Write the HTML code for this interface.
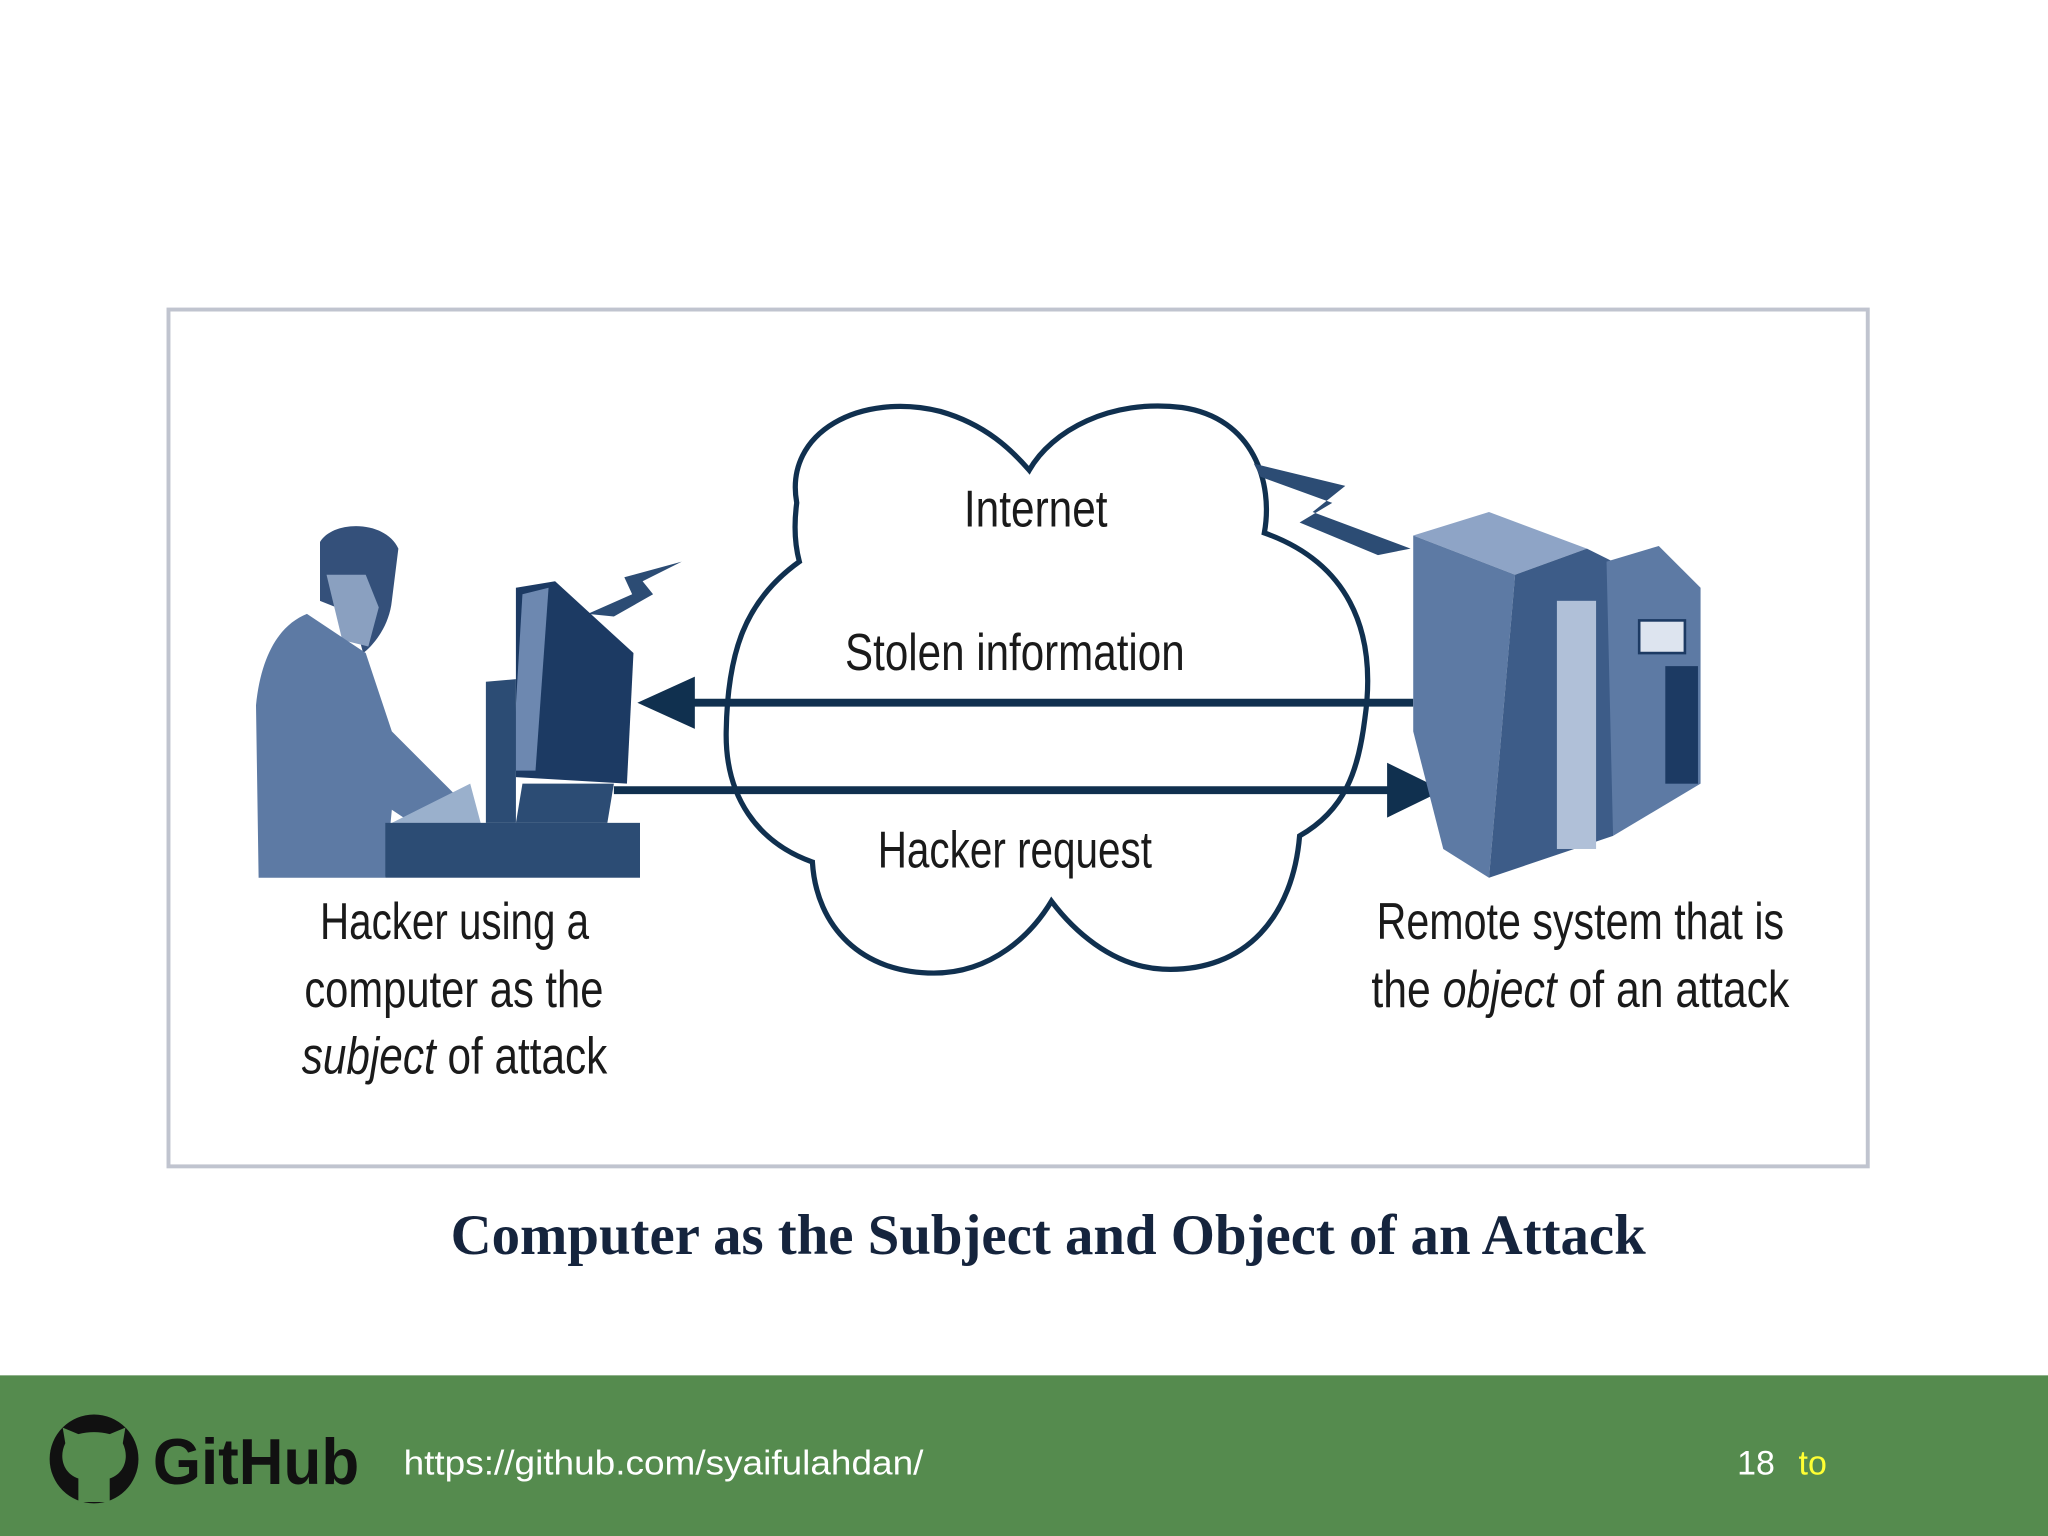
<!DOCTYPE html>
<html><head><meta charset="utf-8"><style>
html,body{margin:0;padding:0;background:#fff;}
svg{display:block}
</style></head><body>
<svg width="2048" height="1536" viewBox="0 0 1568 1176" preserveAspectRatio="none" xmlns="http://www.w3.org/2000/svg">
<rect x="0" y="0" width="1568" height="1176" fill="#fff"/>
<rect x="129" y="237" width="1301" height="656" fill="#fff" stroke="#c0c4cf" stroke-width="3"/>
<!-- cloud -->
<path d="M610,385 C600,330 660,300 720,315 C755,325 775,345 788,360 C805,330 850,305 905,312 C960,320 975,370 968,408 C1030,430 1055,480 1045,550 C1040,590 1030,620 995,640 C990,700 955,745 890,742 C850,740 820,710 805,690 C790,715 760,745 715,745 C660,745 625,710 622,660 C580,645 555,610 556,560 C557,500 570,460 612,430 C608,415 608,400 610,385 Z" fill="#fff" stroke="#10304f" stroke-width="4"/>
<!-- arrows -->
<line x1="520" y1="538" x2="1082" y2="538" stroke="#10304f" stroke-width="6"/>
<polygon points="488,538 532,518 532,558" fill="#10304f"/>
<line x1="470" y1="605" x2="1070" y2="605" stroke="#10304f" stroke-width="6"/>
<polygon points="1105,605 1062,584 1062,626" fill="#10304f"/>
<!-- lightning -->
<polygon points="960,355 1030,372 1005,392 1080,420 1055,425 995,400 1020,385 965,365" fill="#2c4c74"/>
<polygon points="522,430 478,442 484,455 450,470 470,472 500,455 492,445" fill="#2c4c74"/>
<!-- hacker -->
<g fill="#5d7aa4">
<path d="M245,415 C255,398 295,398 305,420 L300,460 C298,480 285,495 278,500 L270,470 L245,460 Z" fill="#34507a"/>
<path d="M250,440 L280,440 L290,465 L282,495 L262,490 Z" fill="#8aa0c0"/>
<path d="M235,470 L280,500 L300,560 L340,600 L360,620 L330,640 L300,620 L295,672 L198,672 L196,540 C200,500 215,478 235,470 Z"/>
<path d="M300,630 L360,600 L368,630 L320,650 Z" fill="#9ab0cc"/>
<path d="M395,450 L425,445 L485,500 L480,600 L395,595 Z" fill="#1c3a63"/>
<path d="M400,455 L420,450 L410,590 L392,590 Z" fill="#6d88b0"/>
<path d="M372,522 L395,520 L395,630 L372,630 Z" fill="#2c4c74"/>
<path d="M400,600 L470,600 L465,630 L395,630 Z" fill="#2c4c74"/>
<rect x="295" y="630" width="195" height="42" fill="#2c4c74"/>
</g>
<!-- server -->
<g>
<polygon points="1082,410 1140,392 1215,420 1160,440" fill="#8ea4c6"/>
<polygon points="1082,410 1160,440 1140,672 1105,650 1082,560" fill="#5d7aa4"/>
<polygon points="1160,440 1215,420 1235,430 1235,640 1140,672" fill="#3d5c88"/>
<rect x="1192" y="460" width="30" height="190" fill="#b0c0d8"/>
<polygon points="1230,430 1270,418 1302,450 1302,600 1235,640" fill="#5d7aa4"/>
<rect x="1255" y="475" width="35" height="25" fill="#dde4ef" stroke="#1c3a63" stroke-width="2"/>
<rect x="1275" y="510" width="25" height="90" fill="#1c3a63"/>
</g>
<!-- labels -->
<g font-family="'Liberation Sans Narrow','Liberation Sans',sans-serif" font-size="40" fill="#1a1a1a" text-anchor="start">
<text x="738" y="403" textLength="110" lengthAdjust="spacingAndGlyphs">Internet</text>
<text x="647" y="513" textLength="260" lengthAdjust="spacingAndGlyphs">Stolen information</text>
<text x="672" y="664" textLength="210" lengthAdjust="spacingAndGlyphs">Hacker request</text>
<text x="245" y="719" textLength="206" lengthAdjust="spacingAndGlyphs">Hacker using a</text>
<text x="233" y="771" textLength="229" lengthAdjust="spacingAndGlyphs">computer as the</text>
<text x="231" y="822" textLength="234" lengthAdjust="spacingAndGlyphs"><tspan font-style="italic">subject</tspan> of attack</text>
<text x="1054" y="719" textLength="312" lengthAdjust="spacingAndGlyphs">Remote system that is</text>
<text x="1050" y="771" textLength="320" lengthAdjust="spacingAndGlyphs">the <tspan font-style="italic">object</tspan> of an attack</text>
</g>
<text x="345" y="960" font-family="'Liberation Serif',serif" font-weight="bold" font-size="44" fill="#15243d" textLength="915" lengthAdjust="spacingAndGlyphs">Computer as the Subject and Object of an Attack</text>
<!-- footer -->
<rect x="0" y="1053" width="1568" height="123" fill="#558b4e"/>
<circle cx="72" cy="1117" r="34" fill="#111"/>
<path d="M60,1150 L60,1132 C48,1128 45,1115 50,1105 L48,1093 L60,1098 C68,1096 76,1096 84,1098 L96,1093 L94,1105 C99,1115 96,1128 84,1132 L84,1150 Z" fill="#558b4e"/>
<text x="117" y="1136" font-family="'Liberation Sans',sans-serif" font-weight="bold" font-size="50" fill="#111" textLength="158" lengthAdjust="spacingAndGlyphs">GitHub</text>
<text x="309" y="1129" font-family="'Liberation Sans',sans-serif" font-size="26" fill="#fff" textLength="398" lengthAdjust="spacingAndGlyphs">https://github.com/syaifulahdan/</text>
<text x="1330" y="1129" font-family="'Liberation Sans',sans-serif" font-size="26" fill="#fff">18</text>
<text x="1377" y="1129" font-family="'Liberation Sans',sans-serif" font-size="26" fill="#ffff33">to</text>
</svg>
</body></html>
